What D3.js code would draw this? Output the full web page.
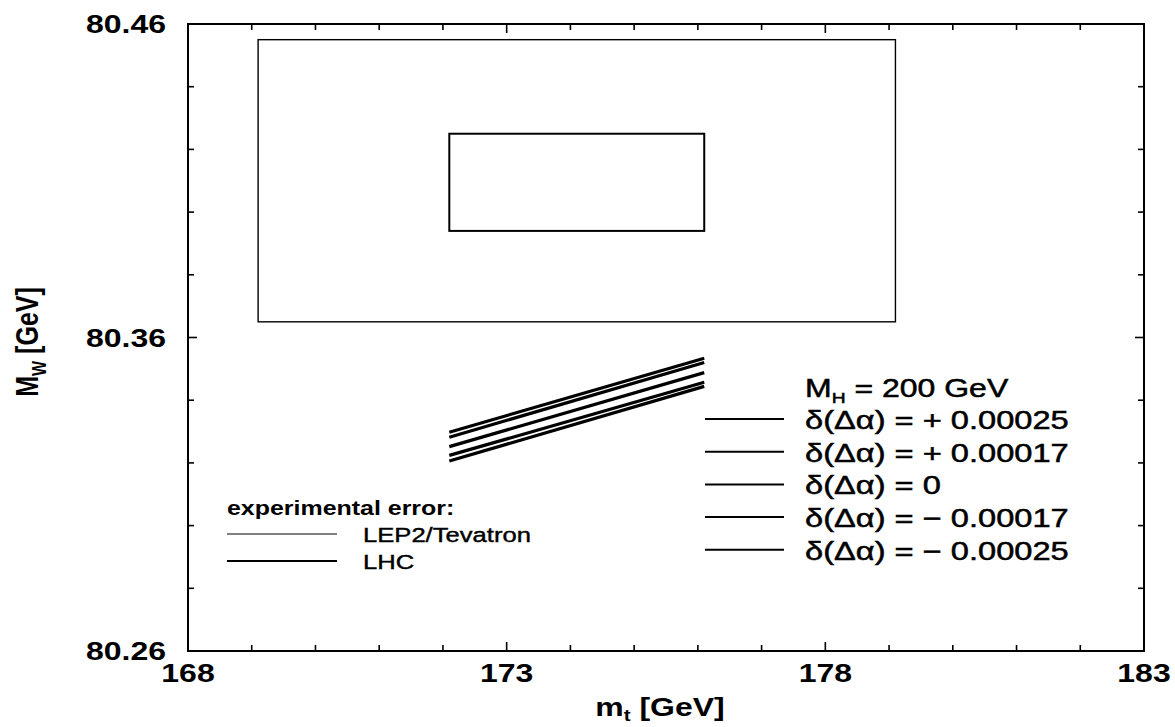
<!DOCTYPE html>
<html>
<head>
<meta charset="utf-8">
<script src="https://cdn.jsdelivr.net/npm/d3@7"></script>
<style>
  body { margin: 0; background: #fff; }
  text { font-family: "Liberation Sans", Arial, Helvetica, sans-serif; fill: #000; }
</style>
</head>
<body>
<div id="chart"></div>
<script>
// ---------- DATA ----------
const mtTicks = [168, 173, 178, 183];
const mwTicks = [80.26, 80.36, 80.46];

// experimental error boxes (m_t range, M_W range)
const lep2Mt = [169.1, 179.1];
const lep2Mw = [80.365, 80.455];
const lhcMt = [172.1, 176.1];
const lhcMw = [80.394, 80.425];

// M_W(m_t) for M_H = 200 GeV, one line per shift of delta alpha
const lineMt = [172.1, 176.1];
const shiftLabels = ['+ 0.00025', '+ 0.00017', '0', '\u2212 0.00017', '\u2212 0.00025'];
const mwPlus25 = [80.3206, 80.3444];
const mwPlus17 = [80.3224, 80.3457];
const mwZero = [80.3252, 80.3488];
const mwMinus17 = [80.3282, 80.3520];
const mwMinus25 = [80.3298, 80.3534];
const shiftSeries = [mwPlus25, mwPlus17, mwZero, mwMinus17, mwMinus25];

// ---------- SVG ----------
const W = 1175, H = 727;
const margin = { left: 188, right: 31, top: 24, bottom: 76 };
const SX = 1.28; // the scan is stretched sideways

const svg = d3.select('#chart').append('svg')
  .attr('width', W).attr('height', H);

const x = d3.scaleLinear().domain([168, 183]).range([margin.left, W - margin.right]);
const y = d3.scaleLinear().domain([80.26, 80.46]).range([H - margin.bottom, margin.top]);

function label(g, px, py, anchor, size, weight) {
  return g.append('text')
    .attr('transform', `translate(${px},${py}) scale(${SX},1)`)
    .attr('text-anchor', anchor)
    .style('font-size', size + 'px')
    .style('font-weight', weight || 'normal');
}

// ---------- FRAME + TICKS ----------
const x0 = x.range()[0], x1 = x.range()[1];
const y0 = y.range()[0], y1 = y.range()[1];

svg.append('rect')
  .attr('x', x0).attr('y', y1)
  .attr('width', x1 - x0).attr('height', y0 - y1)
  .attr('fill', 'none').attr('stroke', '#000').attr('stroke-width', 2);

const xMinor = d3.range(168, 183.01, 1);
const yMinor = d3.range(0, 11).map(i => 80.26 + i * 0.02);
const isMajorX = v => mtTicks.some(t => Math.abs(t - v) < 1e-6);
const isMajorY = v => mwTicks.some(t => Math.abs(t - v) < 1e-6);

const ticks = svg.append('g').attr('stroke', '#000').attr('stroke-width', 1.6);
xMinor.forEach(v => {
  const len = isMajorX(v) ? 9 : 6;
  ticks.append('line').attr('x1', x(v)).attr('x2', x(v)).attr('y1', y0).attr('y2', y0 - len);
  ticks.append('line').attr('x1', x(v)).attr('x2', x(v)).attr('y1', y1).attr('y2', y1 + len);
});
yMinor.forEach(v => {
  const len = isMajorY(v) ? 9 : 6;
  ticks.append('line').attr('y1', y(v)).attr('y2', y(v)).attr('x1', x0).attr('x2', x0 + len);
  ticks.append('line').attr('y1', y(v)).attr('y2', y(v)).attr('x1', x1).attr('x2', x1 - len);
});

// tick labels
mtTicks.forEach(v => {
  label(svg, x(v), 682, 'middle', 25, 'bold').text(v);
});
mwTicks.forEach(v => {
  label(svg, 166, y(v) + 9, 'end', 25, 'bold').text(v.toFixed(2));
});

// axis titles
const xt = label(svg, 660, 716, 'middle', 25, 'bold');
xt.append('tspan').text('m');
xt.append('tspan').attr('dy', 5).style('font-size', '16px').text('t');
xt.append('tspan').attr('dy', -5).text(' [GeV]');

const yt = svg.append('text')
  .attr('transform', `translate(38,342) rotate(-90) scale(1,${SX})`)
  .attr('text-anchor', 'middle')
  .style('font-size', '25px').style('font-weight', 'bold');
yt.append('tspan').text('M');
yt.append('tspan').attr('dy', 6).style('font-size', '16px').text('W');
yt.append('tspan').attr('dy', -6).text(' [GeV]');

// ---------- ERROR BOXES ----------
svg.append('rect')
  .attr('x', x(lep2Mt[0])).attr('y', y(lep2Mw[1]))
  .attr('width', x(lep2Mt[1]) - x(lep2Mt[0]))
  .attr('height', y(lep2Mw[0]) - y(lep2Mw[1]))
  .attr('fill', 'none').attr('stroke', '#000').attr('stroke-width', 1.4);

svg.append('rect')
  .attr('x', x(lhcMt[0])).attr('y', y(lhcMw[1]))
  .attr('width', x(lhcMt[1]) - x(lhcMt[0]))
  .attr('height', y(lhcMw[0]) - y(lhcMw[1]))
  .attr('fill', 'none').attr('stroke', '#000').attr('stroke-width', 2);

// ---------- M_W vs m_t LINES ----------
const line = d3.line().x(d => x(d[0])).y(d => y(d[1]));
svg.append('g').selectAll('path')
  .data(shiftSeries)
  .enter().append('path')
  .attr('d', s => line(lineMt.map((m, i) => [m, s[i]])))
  .attr('fill', 'none').attr('stroke', '#000').attr('stroke-width', 3.2);

// ---------- LEGEND (right) ----------
const mh = label(svg, 805, 397, 'start', 25).attr('stroke', '#000').attr('stroke-width', 0.5);
mh.append('tspan').text('M');
mh.append('tspan').attr('dy', 6).style('font-size', '15px').text('H');
mh.append('tspan').attr('dy', -6).text(' = 200 GeV');

shiftLabels.forEach((s, i) => {
  const ly = 419 + i * 32.7;
  svg.append('line')
    .attr('x1', 705).attr('x2', 784).attr('y1', ly).attr('y2', ly)
    .attr('stroke', '#000').attr('stroke-width', 2);
  label(svg, 805, ly + 10, 'start', 25.5)
    .attr('stroke', '#000').attr('stroke-width', 0.5)
    .text('\u03b4(\u0394\u03b1) = ' + s);
});

// ---------- LEGEND (left) ----------
label(svg, 227, 515, 'start', 19.5, 'bold').text('experimental error:');
svg.append('line').attr('x1', 227).attr('x2', 337).attr('y1', 534).attr('y2', 534)
  .attr('stroke', '#000').attr('stroke-width', 1.2);
label(svg, 363, 542, 'start', 20).attr('stroke', '#000').attr('stroke-width', 0.4).text('LEP2/Tevatron');
svg.append('line').attr('x1', 227).attr('x2', 337).attr('y1', 561).attr('y2', 561)
  .attr('stroke', '#000').attr('stroke-width', 2);
label(svg, 363, 569, 'start', 20).attr('stroke', '#000').attr('stroke-width', 0.4).text('LHC');
</script>
</body>
</html>
